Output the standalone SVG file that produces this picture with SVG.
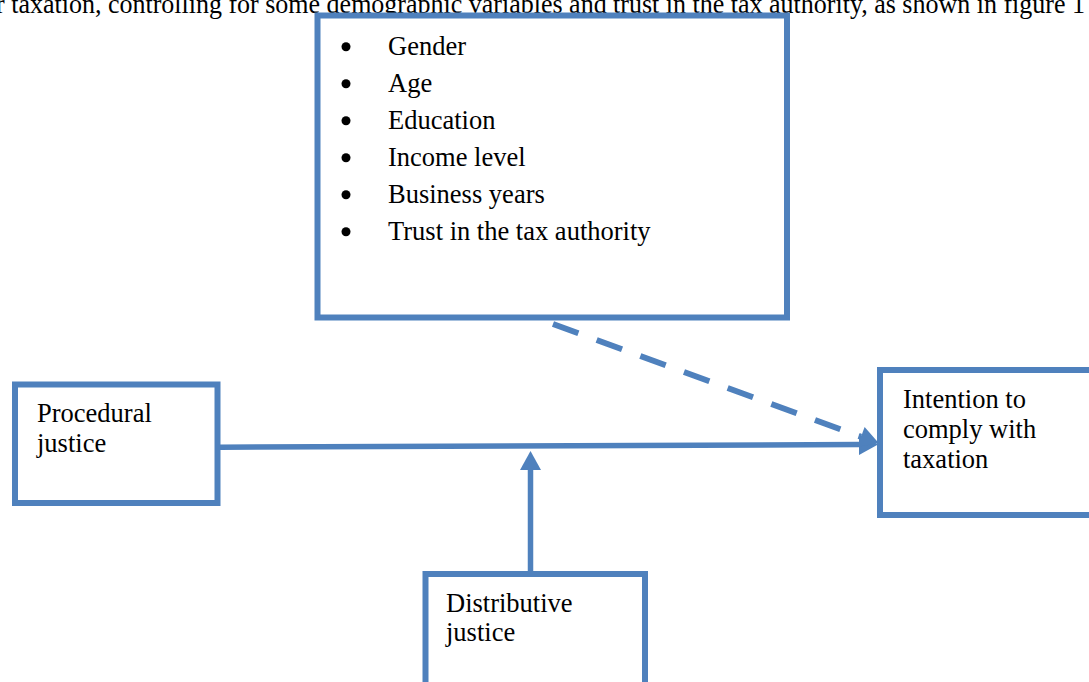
<svg xmlns="http://www.w3.org/2000/svg" width="1089" height="682" viewBox="0 0 1089 682">
<style>
.box{fill:#fff;stroke:#4F81BD;stroke-width:6}
.t{font-family:"Liberation Serif","Times New Roman",serif;font-size:26.5px;fill:#000}
.ln{fill:none;stroke:#4F81BD;stroke-width:5.5}
.dash{fill:none;stroke:#4F81BD;stroke-width:6;stroke-dasharray:27 19.5}
.bul{fill:#000}
</style>
<defs>
<marker id="ah" markerUnits="userSpaceOnUse" markerWidth="19" markerHeight="21" refX="0" refY="10.5" orient="auto" overflow="visible">
<path d="M0,0 L19,10.5 L0,21 z" fill="#4F81BD"/>
</marker>
</defs>
<rect width="1089" height="682" fill="#fff"/>
<text class="t" x="-4" y="13" style="font-size:28px" textLength="1089" lengthAdjust="spacingAndGlyphs">r taxation, controlling for some demographic variables and trust in the tax authority, as shown in figure 1</text>
<g id="controls">
<rect class="box" x="317.5" y="15.5" width="469.5" height="302"/>
<circle class="bul" cx="346" cy="46.7" r="4.5"/>
<circle class="bul" cx="346" cy="83.7" r="4.5"/>
<circle class="bul" cx="346" cy="120.7" r="4.5"/>
<circle class="bul" cx="346" cy="157.7" r="4.5"/>
<circle class="bul" cx="346" cy="194.7" r="4.5"/>
<circle class="bul" cx="346" cy="231.7" r="4.5"/>
<text class="t" x="388" y="55">Gender</text>
<text class="t" x="388" y="92">Age</text>
<text class="t" x="388" y="129">Education</text>
<text class="t" x="388" y="166">Income level</text>
<text class="t" x="388" y="203">Business years</text>
<text class="t" x="388" y="240">Trust in the tax authority</text>
</g>
<g id="procedural">
<rect class="box" x="15" y="384.5" width="202.5" height="118.5"/>
<text class="t" x="37" y="421.5">Procedural</text>
<text class="t" x="37" y="451.5">justice</text>
</g>
<g id="intention">
<rect class="box" x="880" y="370" width="220" height="145"/>
<text class="t" x="903" y="408.3">Intention to</text>
<text class="t" x="903" y="438.3">comply with</text>
<text class="t" x="903" y="468.3">taxation</text>
</g>
<g id="distributive">
<rect class="box" x="425.5" y="574" width="219.5" height="130"/>
<text class="t" x="446" y="611.5">Distributive</text>
<text class="t" x="446" y="640.5">justice</text>
</g>
<g id="connectors">
<path class="ln" d="M220,447.2 L859,444.5" marker-end="url(#ah)"/>
<path class="ln" d="M530.5,571 L530.5,470" marker-end="url(#ah)"/>
<path class="dash" d="M553,324 L861,436.8" marker-end="url(#ah)"/>
</g>
</svg>
